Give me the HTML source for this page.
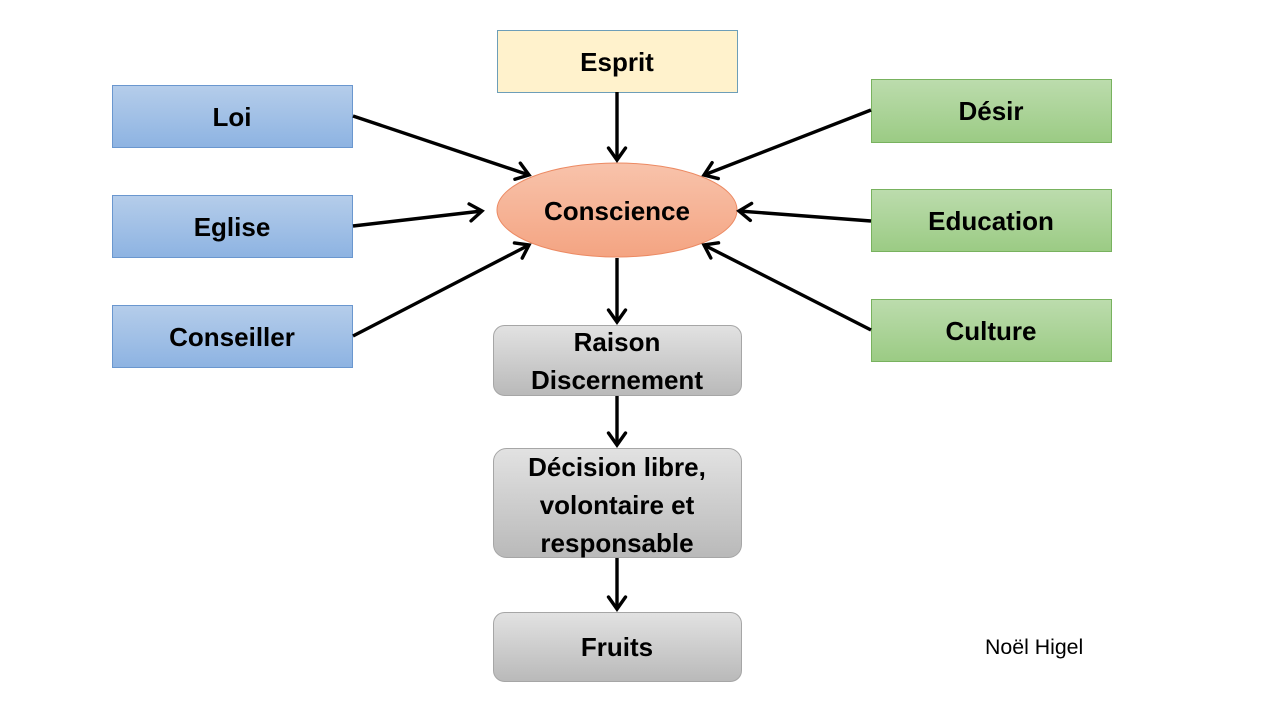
<!DOCTYPE html>
<html>
<head>
<meta charset="utf-8">
<style>
  html, body { margin: 0; padding: 0; background: #ffffff; }
  body { width: 1280px; height: 720px; overflow: hidden; }
  svg { display: block; }
  text { font-family: "Liberation Sans", Arial, sans-serif; }
  .lbl { font-weight: bold; font-size: 26px; fill: #000; }
</style>
</head>
<body>
<svg width="1280" height="720" viewBox="0 0 1280 720" xmlns="http://www.w3.org/2000/svg">
  <defs>
    <linearGradient id="gBlue" x1="0" y1="0" x2="0" y2="1">
      <stop offset="0" stop-color="#b5cdea"/>
      <stop offset="1" stop-color="#8db3e2"/>
    </linearGradient>
    <linearGradient id="gGreen" x1="0" y1="0" x2="0" y2="1">
      <stop offset="0" stop-color="#bcdcad"/>
      <stop offset="1" stop-color="#9bcb84"/>
    </linearGradient>
    <linearGradient id="gSalmon" x1="0" y1="0" x2="0" y2="1">
      <stop offset="0" stop-color="#f8c3ab"/>
      <stop offset="1" stop-color="#f4a482"/>
    </linearGradient>
    <linearGradient id="gGray" x1="0" y1="0" x2="0" y2="1">
      <stop offset="0" stop-color="#e2e2e2"/>
      <stop offset="1" stop-color="#b9b9b9"/>
    </linearGradient>
    <marker id="arr" viewBox="0 0 22 22" refX="16" refY="11" markerWidth="22" markerHeight="22" markerUnits="userSpaceOnUse" orient="auto">
      <polyline points="4,2.5 16,11 4,19.5" fill="none" stroke="#000" stroke-width="3.4" stroke-linecap="round" stroke-linejoin="miter"/>
    </marker>
  </defs>

  <!-- Esprit -->
  <rect x="497.5" y="30.5" width="240" height="62" fill="#fff2cc" stroke="#6d9eb8" stroke-width="1"/>
  <text class="lbl" x="617" y="71" text-anchor="middle">Esprit</text>

  <!-- Left blue boxes -->
  <rect x="112.5" y="85.5" width="240" height="62" fill="url(#gBlue)" stroke="#6a97cf" stroke-width="1"/>
  <text class="lbl" x="232" y="126" text-anchor="middle">Loi</text>
  <rect x="112.5" y="195.5" width="240" height="62" fill="url(#gBlue)" stroke="#6a97cf" stroke-width="1"/>
  <text class="lbl" x="232" y="236" text-anchor="middle">Eglise</text>
  <rect x="112.5" y="305.5" width="240" height="62" fill="url(#gBlue)" stroke="#6a97cf" stroke-width="1"/>
  <text class="lbl" x="232" y="346" text-anchor="middle">Conseiller</text>

  <!-- Right green boxes -->
  <rect x="871.5" y="79.5" width="240" height="63" fill="url(#gGreen)" stroke="#78b25e" stroke-width="1"/>
  <text class="lbl" x="991" y="120" text-anchor="middle">Désir</text>
  <rect x="871.5" y="189.5" width="240" height="62" fill="url(#gGreen)" stroke="#78b25e" stroke-width="1"/>
  <text class="lbl" x="991" y="230" text-anchor="middle">Education</text>
  <rect x="871.5" y="299.5" width="240" height="62" fill="url(#gGreen)" stroke="#78b25e" stroke-width="1"/>
  <text class="lbl" x="991" y="340" text-anchor="middle">Culture</text>

  <!-- Conscience ellipse -->
  <ellipse cx="617" cy="210" rx="120" ry="47" fill="url(#gSalmon)" stroke="#ec8a63" stroke-width="1"/>
  <text class="lbl" x="617" y="220" text-anchor="middle">Conscience</text>

  <!-- Gray boxes -->
  <rect x="493.5" y="325.5" width="248" height="70" rx="11" ry="11" fill="url(#gGray)" stroke="#a6a6a6" stroke-width="1"/>
  <text class="lbl" x="617" y="351" text-anchor="middle">Raison</text>
  <text class="lbl" x="617" y="389" text-anchor="middle">Discernement</text>

  <rect x="493.5" y="448.5" width="248" height="109" rx="13" ry="13" fill="url(#gGray)" stroke="#a6a6a6" stroke-width="1"/>
  <text class="lbl" x="617" y="476" text-anchor="middle">Décision libre,</text>
  <text class="lbl" x="617" y="514" text-anchor="middle">volontaire et</text>
  <text class="lbl" x="617" y="552" text-anchor="middle">responsable</text>

  <rect x="493.5" y="612.5" width="248" height="69" rx="11" ry="11" fill="url(#gGray)" stroke="#a6a6a6" stroke-width="1"/>
  <text class="lbl" x="617" y="656" text-anchor="middle">Fruits</text>

  <!-- Arrows -->
  <g stroke="#000" stroke-width="3.4" fill="none" marker-end="url(#arr)">
    <line x1="617" y1="92" x2="617" y2="160"/>
    <line x1="353" y1="116" x2="529" y2="175"/>
    <line x1="353" y1="226" x2="482" y2="211"/>
    <line x1="353" y1="336" x2="529" y2="245"/>
    <line x1="871" y1="110" x2="704" y2="175"/>
    <line x1="871" y1="221" x2="739" y2="211"/>
    <line x1="871" y1="330" x2="704" y2="245"/>
    <line x1="617" y1="258" x2="617" y2="322"/>
    <line x1="617" y1="396" x2="617" y2="445"/>
    <line x1="617" y1="558" x2="617" y2="609"/>
  </g>

  <!-- Author -->
  <text x="985" y="654" font-size="21.3" fill="#000">Noël Higel</text>
</svg>
</body>
</html>
